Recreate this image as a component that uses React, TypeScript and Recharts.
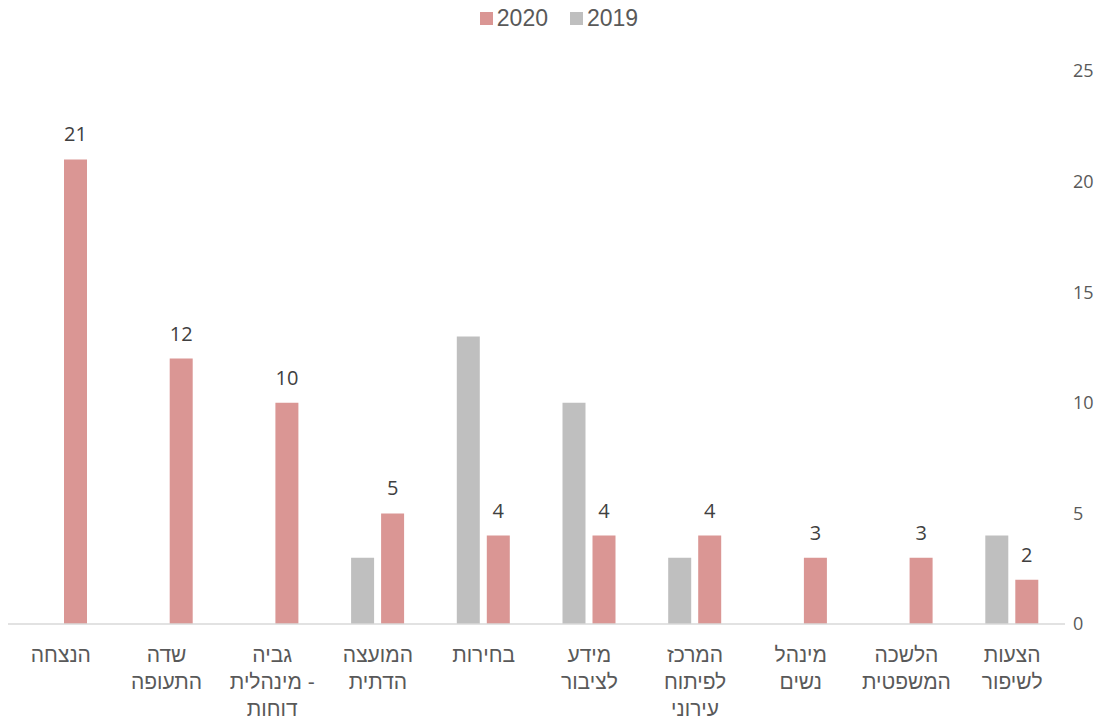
import { BarChart, Bar, XAxis, YAxis, LabelList } from 'recharts'

// display order, left to right (Excel RTL layout)
const categories = [
  'הנצחה',
  'שדה\nהתעופה',
  'גביה\nמינהלית -\nדוחות',
  'המועצה\nהדתית',
  'בחירות',
  'מידע\nלציבור',
  'המרכז\nלפיתוח\nעירוני',
  'מינהל\nנשים',
  'הלשכה\nהמשפטית',
  'הצעות\nלשיפור',
]
const values2019 = [0, 0, 0, 3, 13, 10, 3, 0, 0, 4]
const values2020 = [21, 12, 10, 5, 4, 4, 4, 3, 3, 2]
const yTicks = [0, 5, 10, 15, 20, 25]

const COLOR_2020 = '#DA9694'
const COLOR_2019 = '#BFBFBF'
const TEXT = '#595959'
const FONT = "'Liberation Sans', Arial, sans-serif"

const data = categories.map((name, i) => ({
  name,
  v2019: values2019[i],
  v2020: values2020[i],
}))

// HTML label inside foreignObject so bidi follows an LTR paragraph (hyphen trails on the right)
function CategoryTick({ x, y, payload }: any) {
  return (
    <foreignObject x={x - 60} y={y + 9} width={120} height={90}>
      <div
        dir="ltr"
        style={{
          textAlign: 'center',
          whiteSpace: 'pre-line',
          fontFamily: FONT,
          fontSize: 21,
          lineHeight: '27px',
          color: TEXT,
        }}
      >
        {payload.value}
      </div>
    </foreignObject>
  )
}

function TopLegend() {
  const items = [
    { label: '2020', color: COLOR_2020 },
    { label: '2019', color: COLOR_2019 },
  ]
  return (
    <div style={{ position: 'absolute', top: 5, left: 0, width: 1118, display: 'flex', justifyContent: 'center', gap: 22, fontFamily: FONT, fontSize: 23, color: TEXT, lineHeight: '26px' }}>
      {items.map(it => (
        <span key={it.label} style={{ display: 'inline-flex', alignItems: 'center', gap: 4 }}>
          <span style={{ width: 13, height: 13, background: it.color, display: 'inline-block' }} />
          {it.label}
        </span>
      ))}
    </div>
  )
}

export default function App() {
  return (
    <div style={{ position: 'relative', width: 1118, height: 722, background: '#fff' }}>
      <style>{`body{margin:0}`}</style>
      <TopLegend />
      <BarChart
        width={1118}
        height={722}
        data={data}
        margin={{ top: 71, right: 0, bottom: 0, left: 8 }}
        barGap={7}
        barSize={23}
      >
        <XAxis
          dataKey="name"
          interval={0}
          tickLine={false}
          axisLine={{ stroke: '#D9D9D9', strokeWidth: 1.5 }}
          tick={<CategoryTick />}
          height={98}
        />
        <YAxis
          orientation="right"
          domain={[0, 25]}
          ticks={yTicks}
          width={53}
          axisLine={false}
          tickLine={false}
          tick={{ fill: TEXT, fontSize: 18, fontFamily: "'Open Sans', sans-serif" }}
        />
        <Bar dataKey="v2019" name="2019" fill={COLOR_2019} isAnimationActive={false} />
        <Bar dataKey="v2020" name="2020" fill={COLOR_2020} isAnimationActive={false}>
          <LabelList
            dataKey="v2020"
            position="top"
            offset={18}
            fill="#404040"
            fontSize={20}
            fontFamily="'Open Sans', sans-serif"
          />
        </Bar>
      </BarChart>
    </div>
  )
}
